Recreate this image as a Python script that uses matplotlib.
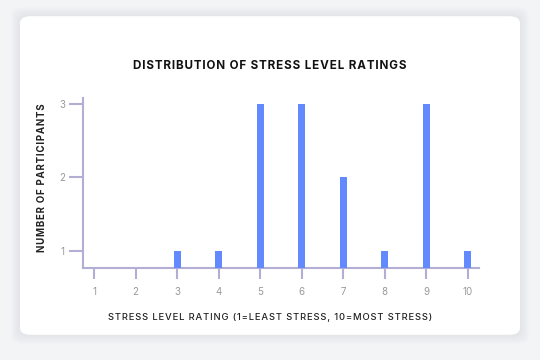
import matplotlib.pyplot as plt
from matplotlib.patches import FancyBboxPatch

# stress ratings 1..10 and how many participants picked each
ratings = [1, 2, 3, 4, 5, 6, 7, 8, 9, 10]
counts = [0, 0, 1, 1, 3, 3, 2, 1, 3, 1]
y_ticks = [1, 2, 3]

title = 'DISTRIBUTION OF STRESS LEVEL RATINGS'
x_title = 'STRESS LEVEL RATING (1=LEAST STRESS, 10=MOST STRESS)'
y_title = 'NUMBER OF PARTICIPANTS'


def spaced(s):
    # poor man's letter-spacing with hair spaces
    return '\u200a'.join(s)


plt.rcParams['font.family'] = ['Inter', 'DejaVu Sans']

fig = plt.figure(figsize=(5.4, 3.6), dpi=100)
fig.patch.set_facecolor('#f3f4f6')

# card with soft shadow
for i in range(4):
    grow = (4 - i) * 0.004
    fig.patches.append(FancyBboxPatch((0.037 - grow, 0.07 - grow * 1.5), 0.926 + 2 * grow, 0.885 + 2 * grow * 1.5,
                                      boxstyle='round,pad=0,rounding_size=0.02',
                                      transform=fig.transFigure, fc='#8890a0', ec='none', alpha=0.03, zorder=-3))
fig.patches.append(FancyBboxPatch((0.037, 0.07), 0.926, 0.885,
                                  boxstyle='round,pad=0,rounding_size=0.02',
                                  transform=fig.transFigure, fc='white', ec='none', zorder=-2))

ax = fig.add_axes([0.1537, 0.2556, 0.733, 0.472])
ax.set_facecolor('none')
ax.bar(ratings, counts, width=0.17, color='#6389ff', zorder=3)

ax.set_xlim(0.735, 10.265)
ax.set_ylim(0.769, 3.08)
ax.set_xticks(ratings)
ax.set_yticks(y_ticks)

axis_col = '#b3aed3'
for s in ['top', 'right']:
    ax.spines[s].set_visible(False)
for s in ['left', 'bottom']:
    ax.spines[s].set_color(axis_col)
    ax.spines[s].set_linewidth(1.5)
ax.tick_params(axis='x', length=8, width=1.5, color=axis_col, labelsize=7, labelcolor='#999999', pad=6)
ax.tick_params(axis='y', length=10, width=1.5, color=axis_col, labelsize=7, labelcolor='#999999', pad=3)

ax.set_xlabel(spaced(x_title), fontsize=6.8, fontweight='medium', color='#222222')
ax.set_ylabel(spaced(y_title), fontsize=7, fontweight='bold', color='#222222')
# labels sit centred on the card, not on the axes
ax.xaxis.set_label_coords(0.472, -0.262)
ax.yaxis.set_label_coords(-0.091, 0.532)
fig.text(0.5, 0.818, spaced(title), ha='center', va='center', fontsize=8.4, fontweight='bold', color='#111111')

fig.savefig('out.png', dpi=100, facecolor=fig.get_facecolor())
